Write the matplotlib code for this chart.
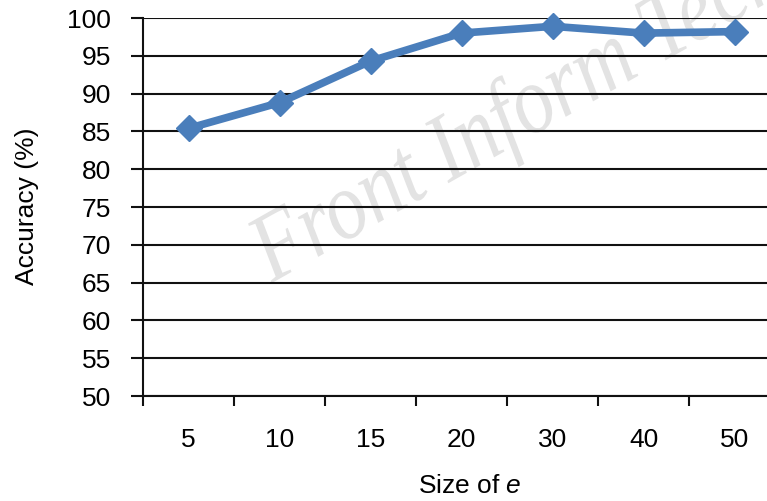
import matplotlib
matplotlib.use("Agg")
import matplotlib.pyplot as plt
from matplotlib.font_manager import FontProperties
from matplotlib.patches import PathPatch
from matplotlib.textpath import TextPath
from matplotlib.ticker import FixedLocator
from matplotlib.transforms import Affine2D

sizes = ["5", "10", "15", "20", "30", "40", "50"]
accuracy = [85.4, 88.8, 94.3, 98.0, 98.9, 98.0, 98.2]
y_ticks = [50, 55, 60, 65, 70, 75, 80, 85, 90, 95, 100]

plt.rcParams["font.family"] = ["Liberation Sans", "DejaVu Sans"]
plt.rcParams["mathtext.fontset"] = "custom"
plt.rcParams["mathtext.rm"] = "Liberation Sans"
plt.rcParams["mathtext.it"] = "Liberation Sans:italic"

LINE_COLOR = "#4a7ebb"
FS = 19

fig = plt.figure(figsize=(7.67, 5.01), dpi=100)
# axes runs a little past the right edge of the figure, as in the source
ax = fig.add_axes([143 / 767, 1 - 396 / 501, 637 / 767, 378 / 501])
ax.set_facecolor("none")

# faint journal watermark (condensed italic serif), drawn under the axes
wm_path = TextPath((0, 0), "Front Inform Technol", size=97,
                   prop=FontProperties(family="Liberation Serif", style="italic"))
wm_trans = Affine2D().scale(0.84, 1.0).rotate_deg(29.5).translate(272, 501 - 283)
fig.add_artist(PathPatch(wm_path, transform=wm_trans, facecolor="#e3e3e3",
                         edgecolor="none", zorder=-1))

x = list(range(len(sizes)))
ax.plot(x, accuracy, color=LINE_COLOR, lw=5.5, marker="D", ms=13.5,
        markeredgecolor=LINE_COLOR, zorder=3, clip_on=False)

ax.set_xlim(-0.5, len(sizes) - 0.5)
ax.set_ylim(50, 100)
ax.set_yticks(y_ticks)
ax.set_xticks(x)
ax.set_xticklabels(sizes)
ax.xaxis.set_minor_locator(FixedLocator([i - 0.5 for i in range(len(sizes) + 1)]))

ax.set_axisbelow(True)
ax.grid(axis="y", color="#111111", lw=1.5)
ax.grid(axis="x", visible=False)

for side in ("top", "right"):
    ax.spines[side].set_visible(False)
for side in ("left", "bottom"):
    ax.spines[side].set_linewidth(1.5)
    ax.spines[side].set_color("#111111")

ax.tick_params(axis="y", length=9, width=1.5, pad=14, labelsize=FS, color="#111111")
ax.tick_params(axis="x", which="major", length=0, pad=23, labelsize=FS)
ax.tick_params(axis="x", which="minor", length=7, width=1.5, color="#111111")

fig.text(27 / 767, 1 - 206 / 501, "Accuracy (%)", rotation=90,
         ha="center", va="center", fontsize=FS)
fig.text(470 / 767, 1 - 486 / 501, "Size of $e$",
         ha="center", va="center", fontsize=FS)

fig.savefig("out.png", dpi=100)
